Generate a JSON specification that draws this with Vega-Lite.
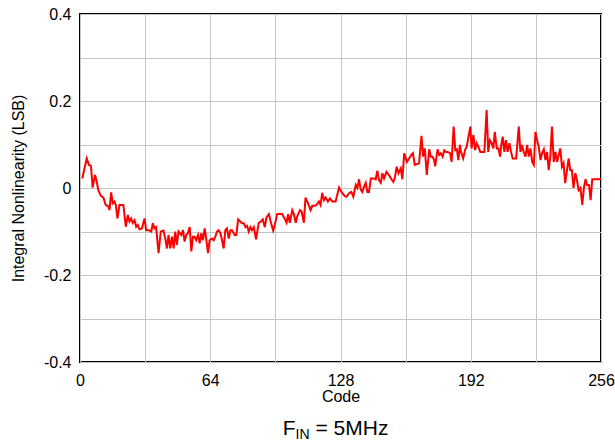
{
  "$schema": "https://vega.github.io/schema/vega-lite/v6.json",
  "width": 521,
  "height": 348,
  "autosize": {"type": "none"},
  "padding": {"left": 80, "top": 14, "right": 14, "bottom": 79},
  "background": "white",
  "config": {
    "font": "Liberation Sans",
    "view": {"stroke": "black", "strokeWidth": 2},
    "axis": {
      "domain": false,
      "ticks": false,
      "grid": true,
      "gridColor": "#c4c4c4",
      "gridWidth": 1,
      "labelFont": "Liberation Sans",
      "labelFontSize": 16,
      "labelColor": "black",
      "labelFlush": false,
      "labelOverlap": false,
      "labelBound": false,
      "titleFont": "Liberation Sans",
      "titleFontSize": 16,
      "titleFontWeight": "normal",
      "titleColor": "black"
    }
  },
  "layer": [
    {
      "data": {
        "values": [
          {"Code": 1.1, "INL": 0.022}, {"Code": 3.3, "INL": 0.068}, {"Code": 4.4, "INL": 0.053}, {"Code": 5.4, "INL": 0.051},
          {"Code": 6.2, "INL": 0.001}, {"Code": 7.4, "INL": 0.03}, {"Code": 8.2, "INL": 0.015}, {"Code": 9.0, "INL": -0.005},
          {"Code": 10.3, "INL": -0.018}, {"Code": 11.5, "INL": -0.022}, {"Code": 12.6, "INL": -0.039}, {"Code": 14.0, "INL": -0.043},
          {"Code": 14.5, "INL": -0.051}, {"Code": 15.3, "INL": -0.01}, {"Code": 16.1, "INL": -0.035}, {"Code": 16.9, "INL": -0.031},
          {"Code": 17.6, "INL": -0.039}, {"Code": 18.4, "INL": -0.07}, {"Code": 19.4, "INL": -0.039}, {"Code": 21.3, "INL": -0.039},
          {"Code": 22.5, "INL": -0.089}, {"Code": 23.5, "INL": -0.062}, {"Code": 24.3, "INL": -0.077}, {"Code": 25.1, "INL": -0.07},
          {"Code": 25.9, "INL": -0.08}, {"Code": 26.8, "INL": -0.074}, {"Code": 27.6, "INL": -0.089}, {"Code": 28.4, "INL": -0.085},
          {"Code": 29.2, "INL": -0.095}, {"Code": 30.4, "INL": -0.093}, {"Code": 31.7, "INL": -0.07}, {"Code": 32.5, "INL": -0.097},
          {"Code": 33.7, "INL": -0.097}, {"Code": 35.0, "INL": -0.1}, {"Code": 35.8, "INL": -0.081}, {"Code": 36.6, "INL": -0.093},
          {"Code": 37.4, "INL": -0.09}, {"Code": 38.6, "INL": -0.15}, {"Code": 39.7, "INL": -0.1}, {"Code": 41.0, "INL": -0.098},
          {"Code": 41.9, "INL": -0.116}, {"Code": 42.7, "INL": -0.139}, {"Code": 43.5, "INL": -0.108}, {"Code": 44.3, "INL": -0.139},
          {"Code": 45.2, "INL": -0.112}, {"Code": 46.0, "INL": -0.139}, {"Code": 46.8, "INL": -0.1}, {"Code": 47.6, "INL": -0.131},
          {"Code": 48.4, "INL": -0.1}, {"Code": 49.8, "INL": -0.108}, {"Code": 50.6, "INL": -0.097}, {"Code": 51.4, "INL": -0.123},
          {"Code": 52.2, "INL": -0.108}, {"Code": 53.0, "INL": -0.104}, {"Code": 53.9, "INL": -0.09}, {"Code": 54.7, "INL": -0.146},
          {"Code": 55.5, "INL": -0.112}, {"Code": 56.3, "INL": -0.112}, {"Code": 57.1, "INL": -0.12}, {"Code": 58.0, "INL": -0.108},
          {"Code": 58.8, "INL": -0.127}, {"Code": 59.6, "INL": -0.104}, {"Code": 60.4, "INL": -0.12}, {"Code": 61.3, "INL": -0.093},
          {"Code": 62.1, "INL": -0.12}, {"Code": 62.9, "INL": -0.15}, {"Code": 63.7, "INL": -0.12}, {"Code": 64.9, "INL": -0.116},
          {"Code": 65.7, "INL": -0.12}, {"Code": 66.5, "INL": -0.112}, {"Code": 67.3, "INL": -0.1}, {"Code": 68.1, "INL": -0.097},
          {"Code": 69.0, "INL": -0.104}, {"Code": 69.8, "INL": -0.12}, {"Code": 70.6, "INL": -0.139}, {"Code": 71.4, "INL": -0.097},
          {"Code": 72.2, "INL": -0.093}, {"Code": 73.1, "INL": -0.116}, {"Code": 73.9, "INL": -0.097}, {"Code": 74.7, "INL": -0.097},
          {"Code": 76.0, "INL": -0.108}, {"Code": 76.8, "INL": -0.108}, {"Code": 77.7, "INL": -0.072}, {"Code": 78.8, "INL": -0.077},
          {"Code": 79.6, "INL": -0.081}, {"Code": 80.5, "INL": -0.081}, {"Code": 81.3, "INL": -0.09}, {"Code": 82.1, "INL": -0.087},
          {"Code": 82.9, "INL": -0.1}, {"Code": 83.7, "INL": -0.09}, {"Code": 84.5, "INL": -0.097}, {"Code": 85.4, "INL": -0.09},
          {"Code": 86.5, "INL": -0.118}, {"Code": 87.8, "INL": -0.08}, {"Code": 88.9, "INL": -0.077}, {"Code": 89.8, "INL": -0.072},
          {"Code": 90.8, "INL": -0.09}, {"Code": 91.6, "INL": -0.068}, {"Code": 92.8, "INL": -0.06}, {"Code": 93.9, "INL": -0.081},
          {"Code": 94.9, "INL": -0.098}, {"Code": 95.7, "INL": -0.085}, {"Code": 96.9, "INL": -0.06}, {"Code": 98.2, "INL": -0.06},
          {"Code": 99.3, "INL": -0.06}, {"Code": 100.5, "INL": -0.07}, {"Code": 101.5, "INL": -0.08}, {"Code": 102.3, "INL": -0.06},
          {"Code": 103.1, "INL": -0.08}, {"Code": 104.3, "INL": -0.051}, {"Code": 105.1, "INL": -0.06}, {"Code": 106.0, "INL": -0.08},
          {"Code": 106.7, "INL": -0.066}, {"Code": 108.1, "INL": -0.051}, {"Code": 108.9, "INL": -0.054}, {"Code": 110.0, "INL": -0.08},
          {"Code": 110.8, "INL": -0.022}, {"Code": 112.0, "INL": -0.035}, {"Code": 113.3, "INL": -0.051}, {"Code": 114.1, "INL": -0.041},
          {"Code": 115.3, "INL": -0.041}, {"Code": 116.2, "INL": -0.039}, {"Code": 117.4, "INL": -0.031}, {"Code": 118.2, "INL": -0.039},
          {"Code": 119.0, "INL": -0.011}, {"Code": 119.9, "INL": -0.028}, {"Code": 120.7, "INL": -0.022}, {"Code": 121.8, "INL": -0.031},
          {"Code": 122.8, "INL": -0.024}, {"Code": 124.0, "INL": -0.031}, {"Code": 125.6, "INL": -0.031}, {"Code": 127.3, "INL": 0.001},
          {"Code": 128.1, "INL": -0.006}, {"Code": 128.9, "INL": -0.012}, {"Code": 130.0, "INL": -0.018}, {"Code": 131.0, "INL": -0.02},
          {"Code": 132.2, "INL": -0.012}, {"Code": 133.3, "INL": -0.009}, {"Code": 134.3, "INL": -0.02}, {"Code": 135.5, "INL": 0.007},
          {"Code": 136.3, "INL": 0.0}, {"Code": 137.1, "INL": 0.02}, {"Code": 137.9, "INL": -0.003}, {"Code": 138.7, "INL": -0.009},
          {"Code": 139.6, "INL": 0.003}, {"Code": 140.4, "INL": 0.012}, {"Code": 141.2, "INL": -0.009}, {"Code": 142.0, "INL": -0.009},
          {"Code": 142.9, "INL": 0.022}, {"Code": 144.2, "INL": 0.022}, {"Code": 145.3, "INL": 0.02}, {"Code": 146.1, "INL": 0.04},
          {"Code": 146.9, "INL": 0.018}, {"Code": 147.8, "INL": 0.012}, {"Code": 148.6, "INL": 0.034}, {"Code": 149.4, "INL": 0.022},
          {"Code": 150.6, "INL": 0.037}, {"Code": 151.4, "INL": 0.032}, {"Code": 152.2, "INL": 0.027}, {"Code": 153.0, "INL": 0.02},
          {"Code": 154.0, "INL": 0.014}, {"Code": 154.8, "INL": 0.026}, {"Code": 155.6, "INL": 0.049}, {"Code": 156.5, "INL": 0.034},
          {"Code": 157.6, "INL": 0.045}, {"Code": 158.4, "INL": 0.02}, {"Code": 159.3, "INL": 0.08}, {"Code": 160.6, "INL": 0.06},
          {"Code": 161.7, "INL": 0.068}, {"Code": 162.8, "INL": 0.076}, {"Code": 163.6, "INL": 0.08}, {"Code": 164.5, "INL": 0.053},
          {"Code": 165.5, "INL": 0.055}, {"Code": 166.6, "INL": 0.057}, {"Code": 167.8, "INL": 0.12}, {"Code": 168.6, "INL": 0.072},
          {"Code": 169.4, "INL": 0.091}, {"Code": 170.4, "INL": 0.03}, {"Code": 171.6, "INL": 0.089}, {"Code": 172.4, "INL": 0.072},
          {"Code": 173.2, "INL": 0.072}, {"Code": 174.0, "INL": 0.064}, {"Code": 174.5, "INL": 0.05}, {"Code": 175.7, "INL": 0.089},
          {"Code": 176.5, "INL": 0.076}, {"Code": 177.3, "INL": 0.08}, {"Code": 178.2, "INL": 0.072}, {"Code": 179.0, "INL": 0.087},
          {"Code": 179.8, "INL": 0.083}, {"Code": 180.6, "INL": 0.083}, {"Code": 181.9, "INL": 0.08}, {"Code": 182.6, "INL": 0.06},
          {"Code": 183.6, "INL": 0.141}, {"Code": 184.4, "INL": 0.087}, {"Code": 185.2, "INL": 0.089}, {"Code": 185.9, "INL": 0.064},
          {"Code": 186.7, "INL": 0.099}, {"Code": 187.2, "INL": 0.083}, {"Code": 188.3, "INL": 0.068}, {"Code": 189.2, "INL": 0.087},
          {"Code": 190.0, "INL": 0.095}, {"Code": 190.9, "INL": 0.118}, {"Code": 191.8, "INL": 0.141}, {"Code": 192.4, "INL": 0.091},
          {"Code": 193.3, "INL": 0.122}, {"Code": 194.1, "INL": 0.087}, {"Code": 194.9, "INL": 0.103}, {"Code": 195.7, "INL": 0.095},
          {"Code": 196.7, "INL": 0.083}, {"Code": 197.5, "INL": 0.083}, {"Code": 198.7, "INL": 0.083}, {"Code": 199.8, "INL": 0.179},
          {"Code": 200.6, "INL": 0.083}, {"Code": 201.4, "INL": 0.11}, {"Code": 202.3, "INL": 0.103}, {"Code": 203.1, "INL": 0.091},
          {"Code": 203.8, "INL": 0.129}, {"Code": 204.8, "INL": 0.091}, {"Code": 205.6, "INL": 0.091}, {"Code": 206.4, "INL": 0.072},
          {"Code": 207.0, "INL": 0.099}, {"Code": 207.7, "INL": 0.118}, {"Code": 208.5, "INL": 0.083}, {"Code": 209.3, "INL": 0.11},
          {"Code": 210.1, "INL": 0.083}, {"Code": 211.0, "INL": 0.103}, {"Code": 211.8, "INL": 0.083}, {"Code": 212.6, "INL": 0.068},
          {"Code": 213.4, "INL": 0.068}, {"Code": 214.3, "INL": 0.068}, {"Code": 215.6, "INL": 0.141}, {"Code": 216.4, "INL": 0.083},
          {"Code": 217.2, "INL": 0.099}, {"Code": 218.0, "INL": 0.083}, {"Code": 218.9, "INL": 0.072}, {"Code": 219.7, "INL": 0.099},
          {"Code": 220.5, "INL": 0.072}, {"Code": 221.3, "INL": 0.091}, {"Code": 222.2, "INL": 0.06}, {"Code": 223.0, "INL": 0.053},
          {"Code": 223.8, "INL": 0.129}, {"Code": 224.6, "INL": 0.11}, {"Code": 225.4, "INL": 0.095}, {"Code": 226.3, "INL": 0.064},
          {"Code": 227.0, "INL": 0.08}, {"Code": 227.9, "INL": 0.089}, {"Code": 228.7, "INL": 0.064}, {"Code": 229.5, "INL": 0.083},
          {"Code": 230.3, "INL": 0.041}, {"Code": 231.1, "INL": 0.072}, {"Code": 231.9, "INL": 0.141}, {"Code": 232.8, "INL": 0.06},
          {"Code": 233.6, "INL": 0.083}, {"Code": 234.4, "INL": 0.06}, {"Code": 235.2, "INL": 0.076}, {"Code": 236.0, "INL": 0.091},
          {"Code": 236.8, "INL": 0.049}, {"Code": 237.6, "INL": 0.057}, {"Code": 238.4, "INL": 0.011}, {"Code": 239.3, "INL": 0.041},
          {"Code": 240.1, "INL": 0.068}, {"Code": 240.9, "INL": 0.041}, {"Code": 241.7, "INL": 0.041}, {"Code": 242.5, "INL": 0.0},
          {"Code": 243.4, "INL": 0.034}, {"Code": 244.2, "INL": 0.018}, {"Code": 245.0, "INL": -0.005}, {"Code": 245.9, "INL": 0.0},
          {"Code": 246.8, "INL": -0.039}, {"Code": 247.6, "INL": 0.0}, {"Code": 248.4, "INL": 0.02}, {"Code": 249.2, "INL": 0.007},
          {"Code": 250.1, "INL": 0.007}, {"Code": 250.9, "INL": -0.028}, {"Code": 251.7, "INL": 0.02}, {"Code": 256.0, "INL": 0.02}
        ]
      },
      "mark": {"type": "line", "color": "#ff0000", "strokeWidth": 2, "clip": true},
      "encoding": {
        "x": {
          "field": "Code",
          "type": "quantitative",
          "scale": {"domain": [0, 256], "nice": false, "zero": false},
          "axis": {
            "title": "Code",
            "values": [0, 32, 64, 96, 128, 160, 192, 224, 256],
            "labelExpr": "datum.value % 64 === 0 ? datum.label : ''",
            "labelPadding": 10,
            "titlePadding": 0
          }
        },
        "y": {
          "field": "INL",
          "type": "quantitative",
          "scale": {"domain": [-0.4, 0.4], "nice": false, "zero": false},
          "axis": {
            "title": "Integral Nonlinearity (LSB)",
            "values": [-0.4, -0.3, -0.2, -0.1, 0, 0.1, 0.2, 0.3, 0.4],
            "labelExpr": "round(datum.value * 10) % 2 === 0 ? (datum.value < -0.001 ? '-' + format(abs(datum.value), '.1~f') : format(abs(datum.value), '.1~f')) : ''",
            "labelPadding": 9,
            "titlePadding": 17
          }
        }
      }
    },
    {
      "data": {"values": [{"t": "F"}]},
      "mark": {"type": "text", "align": "right", "baseline": "alphabetic", "fontSize": 21, "font": "Liberation Sans", "color": "black", "dx": -45, "dy": 73, "clip": false},
      "encoding": {"x": {"datum": 128}, "y": {"datum": -0.4}, "text": {"field": "t"}}
    },
    {
      "data": {"values": [{"t": "IN"}]},
      "mark": {"type": "text", "align": "left", "baseline": "alphabetic", "fontSize": 14, "font": "Liberation Sans", "color": "black", "dx": -45, "dy": 77, "clip": false},
      "encoding": {"x": {"datum": 128}, "y": {"datum": -0.4}, "text": {"field": "t"}}
    },
    {
      "data": {"values": [{"t": "= 5MHz"}]},
      "mark": {"type": "text", "align": "left", "baseline": "alphabetic", "fontSize": 21, "font": "Liberation Sans", "color": "black", "dx": -25, "dy": 73, "clip": false},
      "encoding": {"x": {"datum": 128}, "y": {"datum": -0.4}, "text": {"field": "t"}}
    }
  ]
}
